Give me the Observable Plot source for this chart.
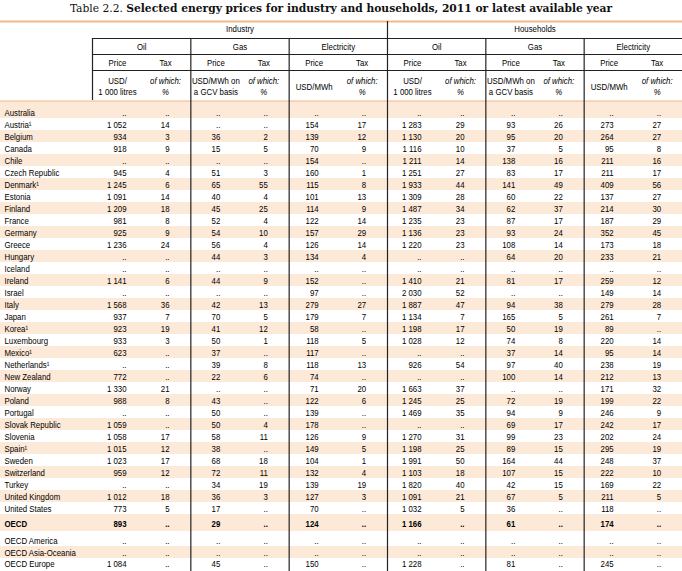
<!DOCTYPE html>
<html><head><meta charset="utf-8">
<script src="https://cdn.jsdelivr.net/npm/d3@7"></script>
<script src="https://cdn.jsdelivr.net/npm/@observablehq/plot@0.6"></script>
<style>
body{margin:0;background:#fff;}
#title{height:19px;line-height:17px;text-align:center;font-family:"DejaVu Serif Condensed","DejaVu Serif",serif;font-size:11.9px;color:#111;white-space:nowrap;}
#title b{font-weight:bold;}
#chart svg{display:block;}
</style></head><body>
<div id="title">Table 2.2. <b>Selected energy prices for industry and households, 2011 or latest available year</b></div>
<div id="chart"></div>
<script>
const N = null;
const countries = ["Australia","Austria¹","Belgium","Canada","Chile","Czech Republic","Denmark¹","Estonia","Finland","France","Germany","Greece","Hungary","Iceland","Ireland","Israel","Italy","Japan","Korea¹","Luxembourg","Mexico¹","Netherlands¹","New Zealand","Norway","Poland","Portugal","Slovak Republic","Slovenia","Spain¹","Sweden","Switzerland","Turkey","United Kingdom","United States","OECD","OECD America","OECD Asia-Oceania","OECD Europe"];
const sectors = ["Industry","Households"];
const fuels = ["Oil","Gas","Electricity"];
const measures = ["Price","Tax"];
const priceUnits = ["USD/\n1 000 litres","USD/MWh on\na GCV basis","USD/MWh"];
const taxUnit = "of which:\n%";

const indOilPrice  = [N,1052,934,918,N,945,1245,1091,1209,981,925,1236,N,N,1141,N,1568,937,923,933,623,N,772,1330,988,N,1059,1058,1015,1023,959,N,1012,773,893,N,N,1084];
const indOilTax    = [N,14,3,9,N,4,6,14,18,8,9,24,N,N,6,N,36,7,19,3,N,N,N,21,8,N,N,17,12,17,12,N,18,5,N,N,N,N];
const indGasPrice  = [N,N,36,15,N,51,65,40,45,52,54,56,44,N,44,N,42,70,41,50,37,39,22,N,43,50,50,58,38,68,72,34,36,17,29,N,N,45];
const indGasTax    = [N,N,2,5,N,3,55,4,25,4,10,4,3,N,9,N,13,5,12,1,N,8,6,N,N,N,4,11,N,18,11,19,3,N,N,N,N,N];
const indElecPrice = [N,154,139,70,154,160,115,101,114,122,157,126,134,N,152,97,279,179,58,118,117,118,74,71,122,139,178,126,149,104,132,139,127,70,124,N,N,150];
const indElecTax   = [N,17,12,9,N,1,8,13,9,14,29,14,4,N,N,N,27,7,N,5,N,13,N,20,6,N,N,9,5,1,4,19,3,N,N,N,N,N];
const hhOilPrice   = [N,1283,1130,1116,1211,1251,1933,1309,1487,1235,1136,1220,N,N,1410,2030,1887,1134,1198,1028,N,926,N,1663,1245,1469,N,1270,1198,1991,1103,1820,1091,1032,1166,N,N,1228];
const hhOilTax     = [N,29,20,10,14,27,44,28,34,23,23,23,N,N,21,52,47,7,17,12,N,54,N,37,25,35,N,31,25,50,18,40,21,5,N,N,N,N];
const hhGasPrice   = [N,93,95,37,138,83,141,60,62,87,93,108,64,N,81,N,94,165,50,74,37,97,100,N,72,94,69,99,89,164,107,42,67,36,61,N,N,81];
const hhGasTax     = [N,26,20,5,16,17,49,22,37,17,24,14,20,N,17,N,38,5,19,8,14,40,14,N,19,9,17,23,15,44,15,15,5,N,N,N,N,N];
const hhElecPrice  = [N,273,264,95,211,211,409,137,214,187,352,173,233,N,259,149,279,261,89,220,95,238,212,171,199,246,242,202,295,248,222,169,211,118,174,N,N,245];
const hhElecTax    = [N,27,27,8,16,17,56,27,30,29,45,18,21,N,12,14,28,7,N,14,14,19,13,32,22,9,17,24,19,37,10,22,5,N,N,N,N,N];

const series = [indOilPrice, indOilTax, indGasPrice, indGasTax, indElecPrice, indElecTax,
                hhOilPrice, hhOilTax, hhGasPrice, hhGasTax, hhElecPrice, hhElecTax];

// ---- layout (page pixels) ----
const TOP = 19, W = 682, H = 571 - TOP;
const Y = v => v - TOP;
const groupW = (W - 92) / 6;
const groupStart = g => 92 + groupW * g;
const rowCenter = i => i < 34 ? 112 + 12 * i : [523, 540, 552, 563][i - 34];
const rowTop = i => i === 0 ? 101 : i < 34 ? rowCenter(i) - 6 : [514, 531, 546, 558][i - 34];
const rowBottom = i => i < 33 ? rowCenter(i) + 6 : i === 33 ? 514 : [531, 546, 558, 571][i - 34];

const fmtNum = d3.formatLocale({decimal: ".", thousands: " ", grouping: [3], currency: ["", ""]}).format(",d");
const fmt = v => v == null ? ".." : fmtNum(v);

// cells
const cells = [];
series.forEach((arr, c) => {
  const g = Math.floor(c / 2), m = c % 2, f = g % 3;
  const x = groupStart(g) + (m === 0 ? (f === 0 ? 34 : 29.5) : 77);
  arr.forEach((v, i) => cells.push({x, y: Y(rowCenter(i)), text: fmt(v), bold: i === 34}));
});
const labels = countries.map((name, i) => ({x: 4, y: Y(rowCenter(i)), text: name, bold: i === 34}));
const stripes = countries.map((_, i) => ({i, y1: Y(rowTop(i)), y2: Y(rowBottom(i))})).filter(d => d.i % 2 === 0);

// header
const sectorLabels = sectors.map((s, k) => ({x: groupStart(3 * k) + groupW * 1.5, y: Y(28.5), text: s}));
const fuelLabels = [];
const measureLabels = [];
const unitLabels = [];
const taxUnitLabels = [];
for (let g = 0; g < 6; g++) {
  const f = g % 3, s = groupStart(g);
  fuelLabels.push({x: s + groupW / 2, y: Y(46), text: fuels[f]});
  measures.forEach((m, k) => measureLabels.push({x: s + (k === 0 ? 25 : 73), y: Y(62), text: m}));
  unitLabels.push({x: s + 25, y: Y(85.5), text: priceUnits[f]});
  taxUnitLabels.push({x: s + 73, y: Y(85.5), text: taxUnit});
}

const vLines = [{x: 92, y1: 38, y2: 100}, {x: 387, y1: 21, y2: 571}]
  .concat([1, 2, 4, 5].map(g => ({x: groupStart(g), y1: 38, y2: 571})))
  .map(d => ({...d, y1: Y(d.y1), y2: Y(d.y2)}));
const hLines = [38, 54, 70].map(y => ({y: Y(y), x1: 92, x2: W}));
const peachLines = [{y: Y(21), x1: 0, x2: W, w: 2}, {y: Y(100.5), x1: 0, x2: W, w: 1}];

const font = '"Liberation Sans",Arial,sans-serif';
const txt = {fill: "#000", fontFamily: font, fontSize: 9.8};

const chart = Plot.plot({
  width: W, height: H,
  margin: 0,
  x: {type: "identity", axis: null},
  y: {type: "identity", axis: null},
  style: {fontFamily: font, background: "#fff"},
  marks: [
    Plot.rect(stripes, {x1: 0, x2: W, y1: "y1", y2: "y2", fill: "#fde9d7"}),
    Plot.ruleY(peachLines, {y: "y", x1: "x1", x2: "x2", stroke: "#f2b987", strokeWidth: d => d.w}),
    Plot.ruleY(hLines, {y: "y", x1: "x1", x2: "x2", stroke: "#222", strokeWidth: 1}),
    Plot.ruleX(vLines, {x: "x", y1: "y1", y2: "y2", stroke: "#222", strokeWidth: 1.2}),
    Plot.text(sectorLabels, {x: "x", y: "y", text: "text", ...txt}),
    Plot.text(fuelLabels, {x: "x", y: "y", text: "text", ...txt}),
    Plot.text(measureLabels, {x: "x", y: "y", text: "text", ...txt}),
    Plot.text(unitLabels, {x: "x", y: "y", text: "text", lineHeight: 1.15, ...txt}),
    Plot.text(taxUnitLabels, {x: "x", y: "y", text: "text", lineHeight: 1.15, fontStyle: "italic", ...txt}),
    Plot.text(labels.filter(d => !d.bold), {x: "x", y: "y", text: "text", textAnchor: "start", ...txt}),
    Plot.text(labels.filter(d => d.bold), {x: "x", y: "y", text: "text", textAnchor: "start", fontWeight: "bold", ...txt}),
    Plot.text(cells.filter(d => !d.bold), {x: "x", y: "y", text: "text", textAnchor: "end", ...txt}),
    Plot.text(cells.filter(d => d.bold), {x: "x", y: "y", text: "text", textAnchor: "end", fontWeight: "bold", ...txt})
  ]
});
// narrow the sans-serif glyphs horizontally (the original uses a condensed face)
d3.select(chart).selectAll("text").each(function () {
  const t = this.getAttribute("transform");
  if (t) this.setAttribute("transform", t + " scale(0.8,1)");
});
document.getElementById("chart").appendChild(chart);
</script>
</body></html>
